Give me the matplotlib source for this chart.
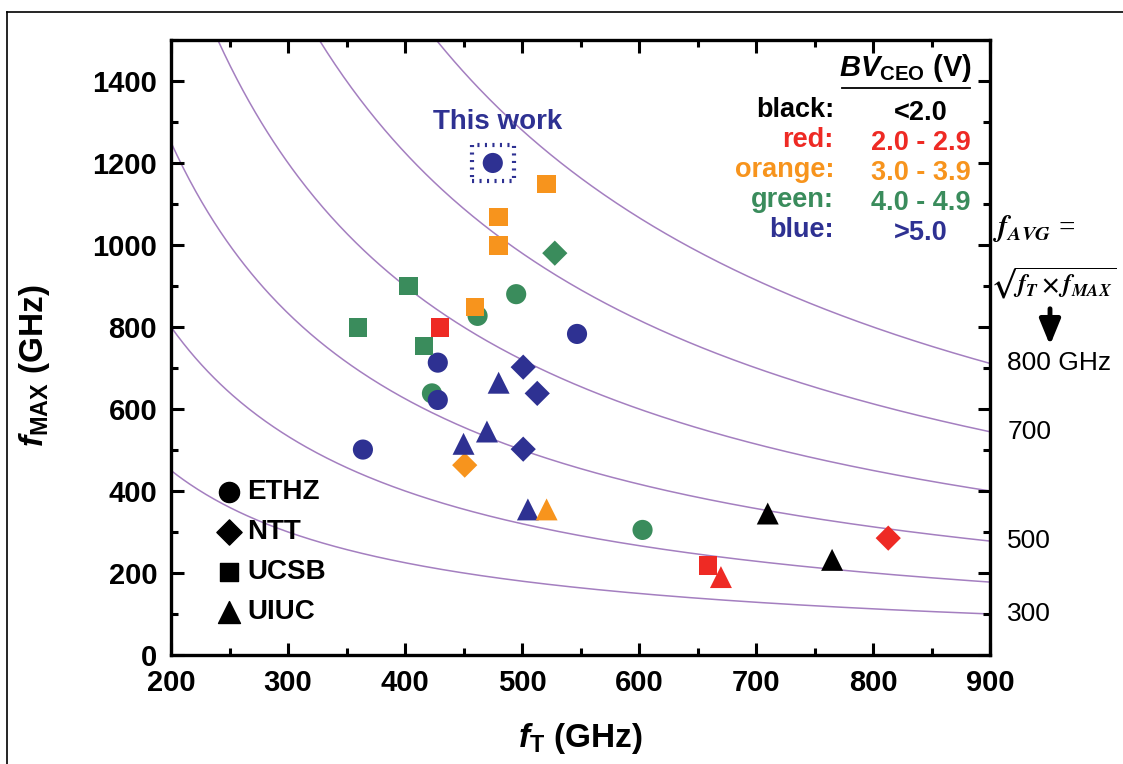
import numpy as np
import matplotlib
matplotlib.use("Agg")
import matplotlib.pyplot as plt
from matplotlib.patches import Rectangle, FancyArrowPatch
from matplotlib.lines import Line2D
import matplotlib.transforms as mtransforms
import matplotlib.ticker as mticker

plt.rcParams.update({"font.family": "Liberation Sans", "font.weight": "bold",
                     "axes.labelweight": "bold",
                     "mathtext.fontset": "custom",
                     "mathtext.rm": "Liberation Sans:bold",
                     "mathtext.it": "Liberation Sans:italic:bold",
                     "mathtext.bf": "Liberation Sans:bold"})

# colores por BV_CEO
NEGRO, ROJO, NARANJA, VERDE, AZUL = "#000000", "#EE2A24", "#F7941D", "#3A8C5C", "#2E3192"
CURVA = "#A47FC0"

# ETHZ (círculos)
ethz_ft = [475, 495, 462, 547, 428, 423, 428, 364, 603]
ethz_fmax = [1200, 880, 827, 783, 713, 638, 622, 501, 305]
ethz_col = [AZUL, VERDE, VERDE, AZUL, AZUL, VERDE, AZUL, AZUL, VERDE]

# NTT (rombos)
ntt_ft = [528, 501, 513, 501, 451, 813]
ntt_fmax = [980, 702, 638, 502, 463, 285]
ntt_col = [VERDE, AZUL, AZUL, AZUL, NARANJA, ROJO]

# UCSB (cuadrados)
ucsb_ft = [521, 480, 480, 403, 360, 430, 416, 460, 659]
ucsb_fmax = [1149, 1068, 999, 900, 799, 799, 754, 849, 218]
ucsb_col = [NARANJA, NARANJA, NARANJA, VERDE, VERDE, ROJO, VERDE, NARANJA, ROJO]

# UIUC (triángulos)
uiuc_ft = [480, 470, 450, 505, 521, 710, 765, 670]
uiuc_fmax = [664, 545, 515, 355, 355, 345, 232, 190]
uiuc_col = [AZUL, AZUL, AZUL, AZUL, NARANJA, NEGRO, NEGRO, ROJO]

F_AVG = [300, 400, 500, 600, 700, 800]
F_AVG_ETIQ = {800: "800 GHz", 700: "700", 500: "500", 300: "300"}

BV_NOMBRES = ["black:", "red:", "orange:", "green:", "blue:"]
BV_RANGOS = ["<2.0", "2.0 - 2.9", "3.0 - 3.9", "4.0 - 4.9", ">5.0"]
BV_COLORES = [NEGRO, ROJO, NARANJA, VERDE, AZUL]

GRUPOS = ["ETHZ", "NTT", "UCSB", "UIUC"]
MARCAS = ["o", "D", "s", "^"]
TAM = {"o": 210, "D": 165, "s": 175, "^": 250}

fig = plt.figure(figsize=(11.23, 7.64), dpi=100)
ax = fig.add_axes([0.1523, 0.1427, 0.7293, 0.805])

# curvas de f_AVG constante
ft = np.linspace(200, 900, 400)
for fa in F_AVG:
    ax.plot(ft, fa**2 / ft, color=CURVA, lw=1.1, zorder=1)

ax.scatter(ethz_ft, ethz_fmax, s=TAM["o"], marker="o", c=ethz_col, linewidths=0, zorder=3)
ax.scatter(ntt_ft, ntt_fmax, s=TAM["D"], marker="D", c=ntt_col, linewidths=0, zorder=3)
ax.scatter(ucsb_ft, ucsb_fmax, s=TAM["s"], marker="s", c=ucsb_col, linewidths=0, zorder=3)
ax.scatter(uiuc_ft, uiuc_fmax, s=TAM["^"], marker="^", c=uiuc_col, linewidths=0, zorder=3)

# "This work"
ax.add_patch(Rectangle((ethz_ft[0] - 18, ethz_fmax[0] - 45), 36, 90, fill=False,
                       edgecolor=AZUL, linestyle=(0, (0.5, 1.3)), lw=3, zorder=3))
ax.text(ethz_ft[0] + 4, 1300, "This work", color=AZUL, fontsize=20,
        ha="center", va="center")

ax.set_xlim(200, 900)
ax.set_ylim(0, 1500)
ax.set_xticks(range(200, 901, 100))
ax.set_yticks(range(0, 1401, 200))
ax.xaxis.set_minor_locator(mticker.MultipleLocator(50))
ax.yaxis.set_minor_locator(mticker.MultipleLocator(100))
ax.tick_params(which="both", direction="in", top=True, right=True, width=2.2,
               labelsize=21, pad=10)
ax.tick_params(which="major", length=9)
ax.tick_params(which="minor", length=5)
for sp in ax.spines.values():
    sp.set_linewidth(2.4)

ax.set_xlabel(r"$f_{\mathrm{T}}$ (GHz)", fontsize=24)
ax.set_ylabel(r"$f_{\mathrm{MAX}}$ (GHz)", fontsize=24)
ax.xaxis.set_label_coords(0.5, -0.108)
ax.yaxis.set_label_coords(-0.145, 0.47)

# leyenda de símbolos
for i, (nom, m) in enumerate(zip(GRUPOS, MARCAS)):
    yy = 0.265 - i * 0.065
    ax.scatter([0.071], [yy], s=TAM[m], marker=m, c="k", transform=ax.transAxes,
               clip_on=False, zorder=4)
    ax.text(0.093, yy, nom, fontsize=20, ha="left", va="center", transform=ax.transAxes)

# tabla BV_CEO
fig.text(905 / 1123, 1 - 68 / 764, r"$\mathit{BV}_{\mathrm{CEO}}$ (V)", fontsize=21,
         ha="center", va="center")
fig.add_artist(Line2D([842 / 1123, 970 / 1123], [1 - 88 / 764] * 2, color="k", lw=1.3))
for i, (nom, rng, col) in enumerate(zip(BV_NOMBRES, BV_RANGOS, BV_COLORES)):
    y = 1 - (110 + i * 30) / 764
    fig.text(834 / 1123, y, nom, color=col, fontsize=19.5, ha="right", va="center")
    fig.text(921 / 1123, y - 0.004, rng, color=col, fontsize=19.5, ha="center", va="center")

# etiquetas de f_AVG a la derecha
trans = mtransforms.blended_transform_factory(ax.transAxes, ax.transData)
for fa, et in F_AVG_ETIQ.items():
    ax.text(1.021, fa**2 / 900, et, transform=trans, fontsize=19, fontweight="normal",
            ha="left", va="center", clip_on=False)

fig.text(993 / 1123, 1 - 228 / 764, r"$f_{AVG}$ =", fontsize=21, math_fontfamily="stix",
         family="Liberation Serif", fontweight="normal", ha="left", va="center")
fig.text(990 / 1123, 1 - 283 / 764, r"$\sqrt{f_{T}\times f_{MAX}}$", fontsize=18,
         math_fontfamily="stix", fontweight="normal", ha="left", va="center")
fig.add_artist(FancyArrowPatch(
    (1050 / 1123, 1 - 306 / 764), (1050 / 1123, 1 - 348 / 764),
    transform=fig.transFigure, arrowstyle="-|>,head_length=1.1,head_width=0.45",
    mutation_scale=14, lw=3.5, color="k"))

# marco de la figura
fig.add_artist(Line2D([7 / 1123, 1.0], [1 - 12 / 764] * 2, color="k", lw=1.2))
fig.add_artist(Line2D([7 / 1123] * 2, [0, 1 - 12 / 764], color="k", lw=1.2))

fig.savefig("out.png", dpi=100)
